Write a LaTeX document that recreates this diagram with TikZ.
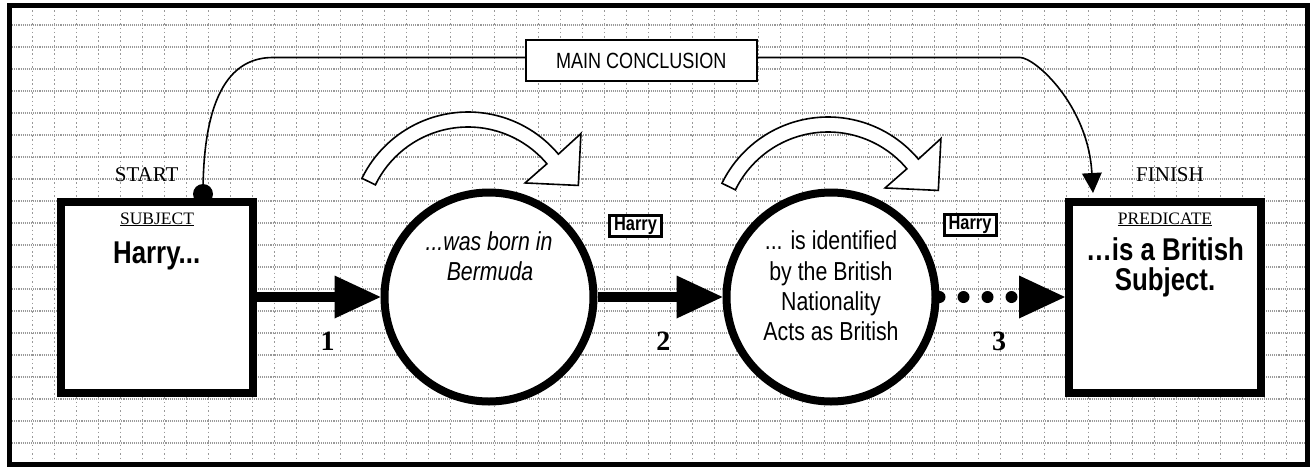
\documentclass[tikz,border=0pt]{standalone}
\usepackage{fontspec}
\setmainfont{Liberation Serif}
\newfontfamily\nsans[FakeStretch=0.82]{Liberation Sans}
\usetikzlibrary{arrows.meta,calc}

\begin{document}
\begin{tikzpicture}[x=1pt,y=1pt,
  gridh/.style={black!40, line width=1.3pt, dash pattern=on 1.1pt off 1pt},
  gridv/.style={black!40, line width=1.4pt, dash pattern=on 1.5pt off 2.8pt},
  frame/.style={line width=5pt},
  termbox/.style={draw, line width=8pt, fill=white, minimum width=192pt,
    minimum height=191pt, inner sep=0pt},
  stepcirc/.style={draw, circle, line width=8pt, fill=white, minimum size=209pt, inner sep=0pt},
  shaft/.style={line width=10pt, -{Triangle[length=46pt,width=43pt,line width=0pt]}},
  dotshaft/.style={line width=12pt, line cap=round, dash pattern=on 0pt off 24pt,
    -{Triangle[length=46pt,width=43pt,line width=0pt]}},
  conn/.style={line width=1.6pt, -{Triangle[length=20pt,width=20pt,line width=0pt]}},
  harc/.style={draw, fill=white, line width=1.6pt, line join=miter},
  mcbox/.style={draw, line width=1.5pt, fill=white, minimum width=231pt, minimum height=41pt,
    inner sep=0pt, font=\nsans\fontsize{22}{22}\selectfont},
  hbox/.style={draw, line width=3pt, fill=white, minimum width=52pt, minimum height=21pt,
    inner sep=0pt, font=\nsans\bfseries\fontsize{20}{20}\selectfont},
  serif/.style={anchor=base, inner sep=0pt, font=\fontsize{21}{21}\selectfont},
  role/.style={anchor=base, inner sep=0pt, font=\fontsize{17.5}{17.5}\selectfont},
  bigtx/.style={anchor=base, inner sep=0pt, font=\nsans\bfseries\fontsize{31.5}{31.5}\selectfont},
  ctx/.style={anchor=base, inner sep=0pt, font=\nsans\fontsize{26}{26}\selectfont},
  ctxi/.style={anchor=base, inner sep=0pt, font=\nsans\itshape\fontsize{26}{26}\selectfont},
  num/.style={anchor=base, inner sep=0pt, font=\bfseries\fontsize{28}{28}\selectfont}
]
\useasboundingbox[fill=white] (0,0) rectangle (1315,-467);

% squared paper inside the frame
\begin{scope}
  \clip (9.3,-5.8) rectangle (1307.5,-464);
  \foreach \k in {0,...,19}
    \draw[gridh] (10,{-25-22*\k}) -- (1306,{-25-22*\k});
  \foreach \k in {0,...,57}
    \draw[gridv] ({32.3+22*\k},-6) -- ({32.3+22*\k},-463);
\end{scope}
\draw[frame] (9.3,-5.8) rectangle (1307.5,-464);

% the two ends of the argument
\node[termbox] (subj) at (157,-297) {};
\node[termbox] (pred) at (1165,-297) {};

% main conclusion connector
\node[circle, fill, minimum size=20pt, inner sep=0pt] (startdot) at (203,-194) {};
\coordinate (endpt) at (1093,-193);
\draw[conn] (startdot.center) .. controls (203,-80) and (240,-57.5) .. (273,-57.5)
  -- (1020,-57.5) .. controls (1035,-57.5) and (1088,-105) .. (endpt);
\node[mcbox] (mc) at (641.3,-60.5) {MAIN CONCLUSION};

% hollow curved arrows over the steps
\coordinate (a1c) at (468,-230);
\coordinate (a2c) at (828,-235);
\foreach \c in {a1c,a2c}
  \draw[harc] ($(\c)+(154:118)$) arc[start angle=154, end angle=40, radius=118]
    -- ($(\c)+(40.5:148.5)$) -- ($(\c)+(22:119)$) -- ($(\c)+(39.5:74)$)
    -- ($(\c)+(40:103)$) arc[start angle=40, end angle=154, radius=103] -- cycle;

% steps
\node[stepcirc] (c1) at (489,-297) {};
\node[stepcirc] (c2) at (831,-297) {};

\draw[shaft] (subj) -- (c1);
\draw[shaft] (c1) -- (c2);
\draw[dotshaft] (c2) -- (pred);

\node[hbox] (h1) at (635.5,-226) {Harry};
\node[hbox] (h2) at (970,-224.5) {Harry};

% labels
\node[serif] (lstart) at (146.7,-181.7) {START};
\node[serif] (lfinish) at (1170,-181.7) {FINISH};
\node[role] (lsubj) at (157,-224) {\underline{SUBJECT}};
\node[role] (lpred) at (1165,-224) {\underline{PREDICATE}};
\node[bigtx] (subjtx) at (156.7,-263) {Harry...};
\node[bigtx] (predtx1) at (1165,-260.7) {…is a British};
\node[bigtx] (predtx2) at (1165,-290.7) {Subject.};

\node[ctxi] (c1a) at (489,-250) {...was born in};
\node[ctxi] (c1b) at (490,-280) {Bermuda};
\node[ctx] (c2a) at (831,-249.3) {... is identified};
\node[ctx] (c2b) at (831,-280) {by the British};
\node[ctx] (c2c) at (831,-310) {Nationality};
\node[ctx] (c2d) at (831,-340) {Acts as British};

\node[num] (n1) at (327.5,-350) {1};
\node[num] (n2) at (663.3,-350) {2};
\node[num] (n3) at (999,-350) {3};
\end{tikzpicture}
\end{document}
